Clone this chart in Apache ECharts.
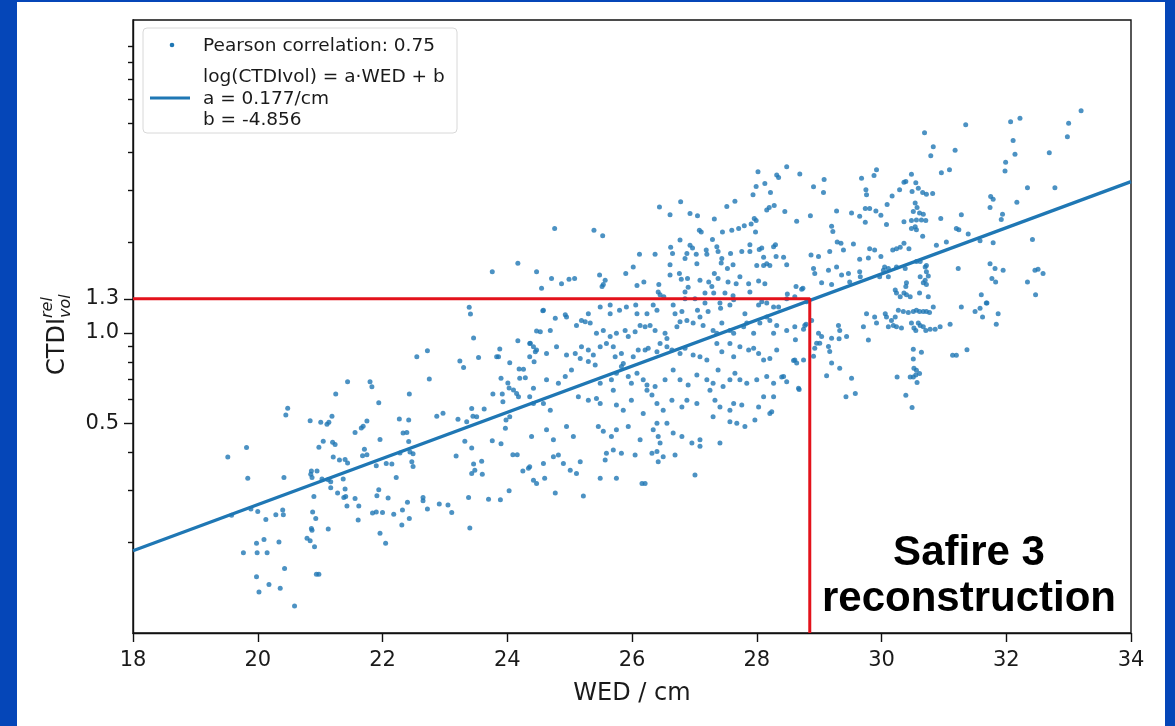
<!DOCTYPE html>
<html><head><meta charset="utf-8">
<script src="https://cdn.jsdelivr.net/npm/echarts@6/dist/echarts.min.js"></script>
<style>
html,body{margin:0;padding:0;background:#0546b8;width:1175px;height:726px;overflow:hidden}
#chart{position:absolute;left:17px;top:2px;width:1148px;height:724px;background:#fff}
</style></head><body><div id="chart"></div>
<script>
// WED (cm), relative CTDIvol
const scatterPoints = [
[19.52,0.386],[19.58,0.247],[19.77,0.185],[19.82,0.415],[19.84,0.328],[19.89,0.259],[19.98,0.199],[19.98,0.154],[19.99,0.185],[20.00,0.254],[20.02,0.137],[20.10,0.205],[20.13,0.239],[20.15,0.185],[20.18,0.145],[20.29,0.248],[20.34,0.201],[20.36,0.141],[20.40,0.257],[20.41,0.248],[20.42,0.330],[20.43,0.164],[20.45,0.533],[20.48,0.561],[20.59,0.123],[20.79,0.207],[20.84,0.510],[20.84,0.203],[20.86,0.347],[20.85,0.338],[20.87,0.330],[20.88,0.253],[20.86,0.223],[20.87,0.220],[20.90,0.285],[20.91,0.194],[20.93,0.241],[20.94,0.157],[20.98,0.157],[20.95,0.347],[20.98,0.416],[21.01,0.504],[21.03,0.326],[21.05,0.436],[21.11,0.496],[21.14,0.504],[21.13,0.222],[21.13,0.324],[21.17,0.319],[21.17,0.305],[21.19,0.528],[21.20,0.432],[21.21,0.386],[21.24,0.425],[21.25,0.626],[21.28,0.293],[21.31,0.377],[21.37,0.326],[21.38,0.283],[21.40,0.379],[21.40,0.302],[21.41,0.285],[21.43,0.265],[21.44,0.369],[21.44,0.688],[21.56,0.466],[21.56,0.281],[21.62,0.265],[21.61,0.238],[21.66,0.482],[21.69,0.489],[21.68,0.390],[21.71,0.410],[21.75,0.509],[21.75,0.393],[21.80,0.688],[21.83,0.662],[21.84,0.251],[21.90,0.361],[21.90,0.253],[21.94,0.585],[21.94,0.300],[21.91,0.287],[21.96,0.442],[21.96,0.215],[22.00,0.252],[22.05,0.199],[22.06,0.367],[22.09,0.282],[22.15,0.366],[22.18,0.249],[22.22,0.330],[22.27,0.517],[22.28,0.398],[22.31,0.229],[22.32,0.257],[22.33,0.464],[22.39,0.466],[22.40,0.273],[22.42,0.513],[22.42,0.435],[22.43,0.241],[22.43,0.626],[22.44,0.401],[22.47,0.372],[22.49,0.396],[22.49,0.359],[22.55,0.833],[22.65,0.283],[22.65,0.276],[22.72,0.259],[22.72,0.873],[22.75,0.702],[22.87,0.528],[22.91,0.269],[22.97,0.540],[23.05,0.267],[23.11,0.252],[23.18,0.389],[23.21,0.516],[23.24,0.807],[23.30,0.767],[23.32,0.436],[23.35,0.506],[23.38,0.283],[23.39,1.218],[23.41,1.157],[23.40,0.224],[23.43,0.560],[23.43,0.414],[23.43,0.340],[23.45,0.528],[23.46,0.366],[23.46,0.962],[23.48,0.349],[23.51,0.526],[23.54,0.829],[23.59,0.374],[23.60,0.338],[23.63,0.558],[23.70,0.279],[23.76,1.601],[23.76,0.437],[23.77,0.626],[23.83,0.833],[23.86,0.833],[23.88,0.884],[23.89,0.278],[23.90,0.427],[23.90,0.706],[23.92,0.626],[23.93,0.590],[23.97,0.481],[23.98,0.513],[24.01,0.681],[24.03,0.656],[24.03,0.298],[24.04,0.526],[24.04,0.796],[24.09,0.393],[24.10,0.646],[24.15,0.629],[24.16,0.393],[24.17,1.709],[24.17,0.943],[24.18,0.613],[24.25,0.347],[24.26,0.757],[24.29,0.710],[24.34,0.354],
[24.37,0.924],[24.47,0.878],[24.36,0.834],[24.43,0.802],[24.19,0.759],[24.20,0.706],[24.47,1.015],[24.57,1.186],
[26.65,1.84],[26.88,1.84],[27.03,1.83],[27.20,1.83],[26.61,1.69],[26.61,1.56],[26.76,1.58],[26.79,1.51],[26.85,1.77],[26.89,1.52],[26.90,1.42],[26.85,1.37],[27.04,1.70],[27.09,1.50],[27.23,1.48],[27.28,1.43],[27.32,1.58],[27.38,1.52],[27.43,1.71],[27.53,1.64],[27.54,1.48],[27.62,1.69],[27.67,1.46],[27.17,1.36],[27.31,1.36],[27.49,1.36],[27.62,1.33],[26.43,1.45],[26.42,1.37],[26.45,1.34],[26.08,1.44],[26.19,1.48],[25.90,1.58],[26.02,1.66],[26.12,1.83],[26.37,1.83],[25.48,1.56],[25.57,1.50],[25.54,1.45],[25.52,1.43],[24.71,1.52],[24.87,1.46],[24.99,1.51],[25.08,1.52],[24.55,1.41],[24.47,1.60],
[28.48,3.58],[28.02,3.45],[28.32,3.36],[28.35,3.30],[28.69,3.39],[28.13,3.15],[27.99,3.08],[27.94,2.89],[28.22,2.94],[28.28,2.66],[28.20,2.62],[28.16,2.57],[28.45,2.54],[27.65,2.75],[27.52,2.64],[26.78,2.74],[26.44,2.63],[26.61,2.48],[26.93,2.50],[27.05,2.46],[24.76,2.23],[27.96,2.41],[27.99,2.37],[27.91,2.31],[27.80,2.28],[27.98,2.17],[28.64,2.36],[27.32,2.40],[27.08,2.20],[27.11,2.17],[27.29,2.05],[27.45,2.17],[27.60,2.20],[27.71,2.23],[25.39,2.20],[25.53,2.11],[26.77,2.04],[26.93,1.96],[26.97,1.92],[26.62,1.93],[27.19,1.89],[27.36,1.94],[27.76,1.87],[27.89,1.97],[28.08,1.92],[28.27,1.94],[28.30,1.97],
[27.38,1.87],[27.44,1.77],[27.58,1.84],[27.89,1.87],[28.04,1.90],[28.11,1.79],[28.16,1.70],[28.31,1.80],[28.43,1.79],[28.48,1.69],[28.21,1.68],[28.11,1.68],[28.00,1.68],[27.73,1.54],[27.87,1.46],[28.03,1.49],[28.13,1.46],[28.63,1.43],[28.72,1.40],[28.49,1.35],
[24.58,1.19],[24.77,1.12],[24.93,1.15],[25.19,1.10],[25.30,1.16],[25.49,1.22],[25.65,1.24],[25.65,1.16],[25.80,1.19],[25.91,1.22],[26.06,1.24],[26.08,1.16],[26.24,1.16],[26.34,1.24],[26.40,1.19],[26.51,1.32],[26.66,1.24],[26.69,1.16],[26.80,1.18],[26.85,1.30],[27.01,1.30],[27.05,1.19],[27.17,1.26],[27.22,1.18],[27.41,1.26],[27.42,1.21],[27.57,1.24],[27.63,1.29],[27.81,1.16],[27.89,1.37],[28.03,1.24],[28.08,1.27],[28.16,1.26],[28.27,1.22],[28.35,1.22],[28.48,1.30],[28.61,1.32],[28.74,1.41],[28.80,1.27],
[24.42,0.900],[24.53,1.01],[24.69,1.02],[24.95,1.13],[25.11,1.06],[25.25,1.09],[25.33,1.08],[25.43,0.998],[25.54,1.02],[25.65,0.973],[25.75,0.998],[25.89,1.02],[25.94,0.973],[26.05,1.01],[26.13,1.06],[26.21,1.05],[26.29,1.06],[26.37,1.02],[26.53,0.998],[26.56,0.958],[26.72,1.05],[26.77,1.09],[26.88,1.10],[26.98,1.08],[27.09,1.13],[27.14,1.06],[27.30,1.02],[27.36,0.998],[27.44,1.08],[27.57,1.02],[27.63,0.998],[27.79,1.05],[27.84,1.08],[27.95,0.998],[28.05,1.08],[28.16,1.13],[28.21,1.10],[28.27,0.998],[28.32,1.06],[28.48,1.02],[28.61,1.05],[28.77,1.06],
[24.36,0.923],[24.45,0.866],[24.63,0.855],[24.79,0.900],[24.95,0.845],[25.09,0.855],[25.19,0.900],[25.30,0.877],[25.38,0.845],[25.49,0.900],[25.59,0.923],[25.70,0.900],[25.73,0.834],[25.83,0.855],[25.86,0.792],[26.02,0.834],[26.10,0.877],[26.21,0.877],[26.26,0.889],[26.40,0.866],[26.45,0.923],[26.56,0.900],[26.64,0.877],[26.77,0.855],[26.85,0.889],[26.98,0.845],[27.09,0.834],[27.20,0.813],[27.36,0.923],[27.44,0.866],[27.57,0.923],[27.63,0.834],[27.73,0.900],[27.87,0.877],[27.95,0.889],[28.03,0.855],[28.11,0.813],[28.21,0.823],[28.32,0.877],[28.61,0.813],[28.75,0.813],
[24.42,0.654],[24.63,0.698],[24.82,0.680],[24.93,0.716],[25.03,0.753],[25.17,0.823],[25.30,0.803],[25.41,0.783],[25.49,0.680],[25.67,0.698],[25.75,0.734],[25.83,0.773],[25.94,0.716],[25.99,0.680],[26.08,0.734],[26.18,0.698],[26.24,0.671],[26.37,0.663],[26.53,0.698],[26.66,0.753],[26.77,0.698],[26.90,0.671],[27.04,0.725],[27.20,0.698],[27.30,0.680],[27.38,0.753],[27.46,0.663],[27.57,0.698],[27.65,0.734],[27.73,0.698],[27.84,0.680],[28.00,0.698],[28.16,0.716],[28.27,0.680],[28.43,0.716],[28.67,0.654],
[24.36,0.613],[24.42,0.582],[24.58,0.582],[24.69,0.553],[25.14,0.613],[25.30,0.597],[25.43,0.605],[25.49,0.582],[25.70,0.645],[25.75,0.575],[25.86,0.553],[25.99,0.597],[26.18,0.539],[26.24,0.645],[26.32,0.621],[26.40,0.582],[26.50,0.553],[26.64,0.597],[26.80,0.567],[26.88,0.597],[27.04,0.582],[27.25,0.645],[27.33,0.597],[27.41,0.567],[27.57,0.553],[27.63,0.582],[27.76,0.575],[28.03,0.567],[28.11,0.613],[28.21,0.539],
[24.39,0.452],[24.63,0.476],[24.74,0.441],[24.95,0.488],[25.06,0.452],[25.46,0.488],[25.54,0.470],[25.67,0.452],[25.75,0.476],[25.94,0.488],[26.13,0.441],[26.34,0.476],[26.40,0.500],[26.42,0.452],[26.45,0.430],[26.56,0.500],[26.66,0.464],[26.80,0.452],[27.09,0.441],[27.30,0.526],[27.41,0.430],[27.57,0.506],[27.68,0.500],[27.81,0.488],[27.97,0.513],
[24.36,0.358],[24.58,0.367],[24.74,0.387],[24.82,0.392],[24.90,0.367],[25.01,0.349],[25.17,0.372],[25.57,0.377],[25.59,0.397],[25.70,0.407],[25.83,0.397],[26.05,0.392],[26.32,0.397],[26.40,0.403],[26.42,0.372],[26.50,0.387],[26.69,0.392],[26.96,0.430],[27.09,0.419],
[24.42,0.323],[24.47,0.315],[24.60,0.328],[24.77,0.293],[25.11,0.340],[25.22,0.286],[25.49,0.328],[25.75,0.328],[26.16,0.315],[26.21,0.315],[27.01,0.336],
[28.40,0.714],[28.48,0.688],[28.59,0.81],[28.64,0.795],[28.68,0.648],[28.24,0.546],[28.27,0.613],[28.62,0.95],[28.75,1.03],[28.79,1.07],
[30.69,4.65],[30.83,4.18],[30.79,3.90],[31.18,4.07],[30.96,3.42],[31.09,3.50],[32.11,4.38],[32.14,3.94],[31.99,3.71],[31.98,3.47],[32.69,3.99],[32.78,3.05],[32.17,2.73],[32.34,3.05],[29.92,3.50],[29.88,3.35],[29.68,3.28],[29.75,3.00],[29.76,2.89],[28.91,3.07],[29.08,3.25],[29.07,2.94],[28.86,2.46],[29.20,2.27],[29.22,2.18],[29.28,2.55],[29.52,2.51],[29.65,2.45],[29.74,2.34],[29.74,2.60],[29.81,2.60],[29.91,2.55],[29.99,2.47],[30.08,2.30],[30.09,2.68],[30.17,2.86],[30.29,3.00],[30.36,3.18],[30.39,3.20],[30.48,3.38],[30.55,3.17],[30.59,3.04],[30.66,2.94],[30.72,2.90],[30.82,2.92],[30.49,2.96],[30.54,2.71],[30.57,2.62],[30.51,2.54],[30.61,2.51],[30.67,2.49],[30.64,2.38],[30.56,2.38],[30.48,2.37],[30.36,2.35],[30.54,2.26],[30.48,2.23],[30.56,2.21],[30.66,2.10],[30.71,2.37],[30.95,2.41],[31.28,2.48],[31.20,2.23],[31.24,2.21],[31.39,2.14],[31.75,2.85],[31.79,2.79],[31.74,2.62],[31.94,2.49],[31.92,2.39],[31.58,2.03],[31.79,2.00],[32.42,2.05],
[28.87,1.82],[28.99,1.80],[29.17,1.87],[29.29,2.01],[29.35,1.99],[29.39,1.89],[29.55,1.98],[29.65,1.76],[29.79,1.78],[29.81,1.91],[29.89,1.89],[29.99,1.80],[30.05,1.66],[30.11,1.64],[30.18,1.89],[30.24,1.91],[30.30,1.93],[30.36,1.99],[30.44,1.91],[30.56,1.73],[30.62,1.73],[30.72,1.68],[30.70,1.66],[30.72,1.60],[30.75,1.55],[30.67,1.47],[30.62,1.54],[30.70,1.50],[30.72,1.45],[30.40,1.47],[30.39,1.43],[30.36,1.36],[30.40,1.34],[30.22,1.39],[30.24,1.36],[30.30,1.32],[30.46,1.32],[30.61,1.36],[30.75,1.32],[30.88,1.96],[31.04,2.01],[31.23,1.64],[31.74,1.70],[31.82,1.64],[31.95,1.62],[31.77,1.52],[31.83,1.48],[32.34,1.48],[32.46,1.62],[32.51,1.63],[32.59,1.58],[32.47,1.34],[31.60,1.34],[31.68,1.26],[28.91,1.64],[28.93,1.58],[29.15,1.62],[29.28,1.66],[29.36,1.56],[29.47,1.58],[29.49,1.48],[29.65,1.60],[29.66,1.54],[29.97,1.54],[30.03,1.62],[30.11,1.54],[30.24,1.66],[30.38,1.64],[29.20,1.45],[29.04,1.47],
[28.88,1.10],[28.99,0.998],[29.01,0.925],[28.96,0.925],[28.93,0.890],[28.91,0.836],[29.04,0.973],[29.20,0.960],[29.15,0.902],[29.17,0.868],[29.20,0.795],[29.12,0.720],[29.31,1.06],[29.33,1.02],[29.32,0.956],[29.44,0.973],[29.33,0.763],[29.52,0.706],[29.58,0.628],[29.43,0.613],[29.71,1.05],[29.79,0.948],[29.76,1.16],[29.89,1.13],[29.92,1.08],[30.06,1.16],[30.08,1.13],[30.16,1.10],[30.22,1.13],[30.19,1.06],[30.11,1.05],[30.24,1.05],[30.32,1.04],[30.27,1.19],[30.35,1.18],[30.43,1.17],[30.51,1.18],[30.56,1.19],[30.61,1.18],[30.67,1.18],[30.72,1.18],[30.77,1.17],[30.83,1.22],[30.59,1.08],[30.48,1.08],[30.52,1.04],[30.55,1.02],[30.62,1.06],[30.67,1.05],[30.71,1.02],[30.78,1.03],[30.86,1.03],[30.94,1.05],[31.10,1.07],[31.28,1.22],[31.50,1.18],[31.58,1.21],[31.62,1.13],[31.69,1.26],[31.84,1.07],[31.87,1.16],[31.14,0.843],[31.20,0.843],[31.37,0.879],[30.51,0.883],[30.64,0.862],[30.51,0.819],[30.52,0.763],[30.56,0.752],[30.61,0.733],[30.55,0.724],[30.51,0.714],[30.57,0.684],[30.46,0.714],[30.25,0.714],[30.39,0.620],[30.49,0.565],
[33.20,5.51],[33.00,5.00],[32.98,4.51],[32.07,5.06],[32.22,5.20],[31.35,4.95]
];
// fitted line log(CTDIvol) = a·WED + b, end points at the axis limits
const fitLine = [[18, 0.188], [34, 3.196]];
// red guide: CTDI 1.3 reached at WED 28.85
const guideLine = [[18, 1.3], [28.85, 1.3], [28.85, 0.1]];
const xTickMin = 18, xTickMax = 34, xTickStep = 2;
const yMajorTicks = [0.5, 1.0, 1.3];
const yMinorTicks = [0.2,0.3,0.4,0.6,0.7,0.8,0.9,2,3,4,5,6,7,8,9];
const yMin = 0.1, yMax = 11.05;

const FONT = "'DejaVu Sans', sans-serif";
const chart = echarts.init(document.getElementById('chart'));
const axisLineStyle = {color: '#111', width: 1.4};
chart.setOption({
  animation: false,
  grid: {left: 116, top: 18, width: 998, height: 613, show: true, borderColor: '#111', borderWidth: 1.4, backgroundColor: 'transparent'},
  xAxis: {
    type: 'value', min: xTickMin, max: xTickMax, interval: xTickStep,
    axisLine: {show: true, lineStyle: axisLineStyle},
    axisTick: {show: true, length: 9, lineStyle: axisLineStyle},
    axisLabel: {color: '#1a1a1a', fontSize: 21, fontFamily: FONT, margin: 17},
    splitLine: {show: false},
    name: 'WED / cm', nameLocation: 'middle', nameGap: 49,
    nameTextStyle: {color: '#1a1a1a', fontSize: 24, fontFamily: FONT}
  },
  yAxis: [{
    type: 'log', logBase: 10, min: yMin, max: yMax,
    axisLine: {show: true, lineStyle: axisLineStyle},
    axisTick: {show: true, length: 9, lineStyle: axisLineStyle, customValues: yMajorTicks},
    axisLabel: {color: '#1a1a1a', fontSize: 21, fontFamily: FONT, margin: 14, customValues: yMajorTicks,
      formatter: v => Number(v).toFixed(1)},
    splitLine: {show: false}, minorTick: {show: false}
  }, {
    type: 'log', logBase: 10, min: yMin, max: yMax, position: 'left',
    axisLine: {show: false},
    axisTick: {show: true, length: 5, lineStyle: axisLineStyle, customValues: yMinorTicks},
    axisLabel: {show: false},
    splitLine: {show: false}
  }],
  series: [
    {type: 'scatter', data: scatterPoints, symbolSize: 5, itemStyle: {color: '#1f77b4'}, z: 2},
    {type: 'line', data: fitLine, symbol: 'none', lineStyle: {color: '#1f77b4', width: 3.2}, z: 3},
    {type: 'line', data: guideLine, symbol: 'none', lineStyle: {color: '#e3121b', width: 3}, z: 4}
  ],
  graphic: [
    {type: 'rect', shape: {x: 126, y: 26, width: 314, height: 105, r: 4},
     style: {fill: 'rgba(255,255,255,0.85)', stroke: '#d8d8d8', lineWidth: 1}, z: 10},
    {type: 'circle', shape: {cx: 155, cy: 43, r: 2.3}, style: {fill: '#1f77b4'}, z: 11},
    {type: 'line', shape: {x1: 133, y1: 96, x2: 173, y2: 96}, style: {stroke: '#1f77b4', lineWidth: 3}, z: 11},
    {type: 'text', x: 186, y: 44, z: 11, style: {text: 'Pearson correlation: 0.75', fill: '#1a1a1a',
      font: '18.5px ' + FONT, verticalAlign: 'middle'}},
    {type: 'text', x: 186, y: 97, z: 11, style: {text: 'log(CTDIvol) = a·WED + b\na = 0.177/cm\nb = -4.856', fill: '#1a1a1a',
      font: '18.5px ' + FONT, lineHeight: 21.5, verticalAlign: 'middle'}},
    {type: 'text', x: 952, y: 574, z: 11, style: {text: 'Safire 3\nreconstruction', fill: '#000',
      font: "bold 42px 'Liberation Sans', Arial, sans-serif", lineHeight: 46, align: 'center', verticalAlign: 'middle'}},
    {type: 'group', x: 41, y: 373, rotation: Math.PI / 2, z: 11, children: [
      {type: 'text', x: 0, y: 0, style: {text: 'CTDI', fill: '#1a1a1a', font: '24px ' + FONT, verticalAlign: 'middle'}},
      {type: 'text', x: 57, y: -10, style: {text: 'rel', fill: '#1a1a1a', font: 'italic 16px ' + FONT, verticalAlign: 'middle'}},
      {type: 'text', x: 57, y: 8, style: {text: 'vol', fill: '#1a1a1a', font: 'italic 16px ' + FONT, verticalAlign: 'middle'}}
    ]}
  ]
});
</script></body></html>
